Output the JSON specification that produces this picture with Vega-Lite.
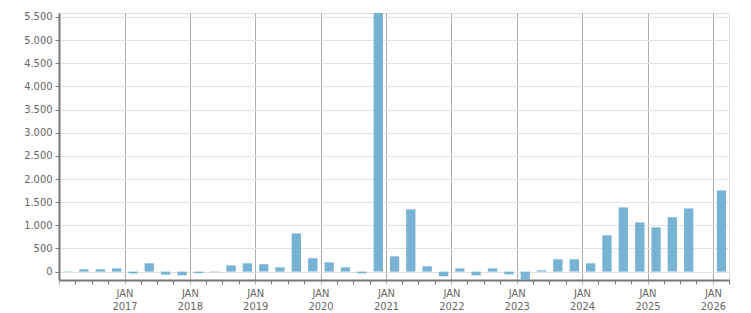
{
  "$schema": "https://vega.github.io/schema/vega-lite/v6.json",
  "width": 670,
  "height": 267,
  "autosize": {"type": "none"},
  "padding": {"left": 59, "top": 13, "right": 22, "bottom": 33},
  "background": "white",
  "config": {
    "view": {"stroke": "#dddddd", "strokeWidth": 1},
    "font": "DejaVu Sans Condensed"
  },
  "data": {
    "values": [
      {"date": "2016-01-01", "value": -8},
      {"date": "2016-04-01", "value": 50},
      {"date": "2016-07-01", "value": 50},
      {"date": "2016-10-01", "value": 70},
      {"date": "2017-01-01", "value": -40},
      {"date": "2017-04-01", "value": 180},
      {"date": "2017-07-01", "value": -65},
      {"date": "2017-10-01", "value": -80},
      {"date": "2018-01-01", "value": -35},
      {"date": "2018-04-01", "value": -12},
      {"date": "2018-07-01", "value": 135},
      {"date": "2018-10-01", "value": 180},
      {"date": "2019-01-01", "value": 157},
      {"date": "2019-04-01", "value": 93},
      {"date": "2019-07-01", "value": 826},
      {"date": "2019-10-01", "value": 287},
      {"date": "2020-01-01", "value": 200},
      {"date": "2020-04-01", "value": 93},
      {"date": "2020-07-01", "value": -37},
      {"date": "2020-10-01", "value": 5586},
      {"date": "2021-01-01", "value": 330},
      {"date": "2021-04-01", "value": 1344},
      {"date": "2021-07-01", "value": 115},
      {"date": "2021-10-01", "value": -101},
      {"date": "2022-01-01", "value": 71},
      {"date": "2022-04-01", "value": -80},
      {"date": "2022-07-01", "value": 71},
      {"date": "2022-10-01", "value": -58},
      {"date": "2023-01-01", "value": -178},
      {"date": "2023-04-01", "value": 28},
      {"date": "2023-07-01", "value": 265},
      {"date": "2023-10-01", "value": 265},
      {"date": "2024-01-01", "value": 180},
      {"date": "2024-04-01", "value": 783},
      {"date": "2024-07-01", "value": 1387},
      {"date": "2024-10-01", "value": 1063},
      {"date": "2025-01-01", "value": 956},
      {"date": "2025-04-01", "value": 1172},
      {"date": "2025-07-01", "value": 1365},
      {"date": "2026-01-01", "value": 1754}
    ]
  },
  "mark": {"type": "bar", "color": "#78b3d5", "width": {"band": 0.63}},
  "encoding": {
    "x": {
      "field": "date",
      "timeUnit": "utcyearquarter",
      "type": "temporal",
      "scale": {
        "type": "utc",
        "domain": [
          {"year": 2016, "month": 1, "date": 1, "utc": true},
          {"year": 2026, "month": 4, "date": 1, "utc": true}
        ],
        "nice": false
      },
      "axis": {
        "title": null,
        "orient": "bottom",
        "tickCount": {"interval": "month", "step": 3},
        "labelExpr": "utcmonth(datum.value) == 0 && utcyear(datum.value) > 2016 ? ['JAN', utcFormat(datum.value, '%Y')] : ''",
        "labelFont": "DejaVu Sans Condensed",
        "labelFontSize": 11,
        "labelColor": "#666666",
        "labelLineHeight": 13,
        "labelPadding": 3,
        "labelOverlap": false,
        "labelFlush": false,
        "domainColor": "#777777",
        "domainWidth": 2,
        "tickSize": 4,
        "tickColor": {"condition": {"test": "utcmonth(datum.value) == 0", "value": "#aaaaaa"}, "value": "#777777"},
        "grid": true,
        "gridColor": "#aaaaaa",
        "gridWidth": 1,
        "gridOpacity": {"condition": {"test": "utcmonth(datum.value) == 0", "value": 1}, "value": 0}
      }
    },
    "y": {
      "field": "value",
      "type": "quantitative",
      "scale": {"domain": [-181, 5586], "nice": false, "zero": false},
      "axis": {
        "title": null,
        "values": [0, 500, 1000, 1500, 2000, 2500, 3000, 3500, 4000, 4500, 5000, 5500],
        "labelExpr": "replace(format(datum.value, ','), ',', '.')",
        "labelFont": "DejaVu Sans Condensed",
        "labelFontSize": 11,
        "labelColor": "#666666",
        "labelPadding": 3,
        "domainColor": "#777777",
        "domainWidth": 2,
        "tickColor": "#777777",
        "tickSize": 4,
        "grid": true,
        "gridColor": "#e0e0e0",
        "gridWidth": 1
      }
    }
  }
}
